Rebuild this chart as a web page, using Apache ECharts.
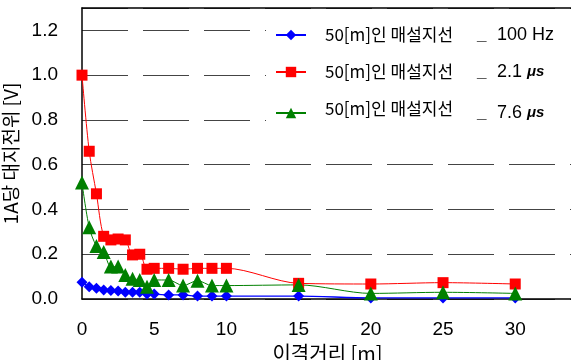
<!DOCTYPE html>
<html>
<head>
<meta charset="utf-8">
<script src="https://cdn.jsdelivr.net/npm/echarts@6/dist/echarts.min.js"></script>
<style>
  html, body { margin: 0; padding: 0; background: #fff; }
  #chart { width: 571px; height: 360px; }
</style>
</head>
<body>
<div id="chart"></div>
<script>
// Distance from the grounding conductor [m]
const distance = [0, 0.5, 1, 1.5, 2, 2.5, 3, 3.5, 4, 4.5, 5, 6, 7, 8, 9, 10, 15, 20, 25, 30];

// Earth potential per 1 A [V]
const pot100Hz = [0.075, 0.055, 0.048, 0.040, 0.038, 0.036, 0.030, 0.030, 0.030, 0.022, 0.022, 0.018, 0.018, 0.013, 0.013, 0.013, 0.013, 0.005, 0.005, 0.005];
const pot2_1us = [1.00, 0.66, 0.47, 0.28, 0.264, 0.268, 0.264, 0.197, 0.200, 0.133, 0.137, 0.137, 0.133, 0.137, 0.137, 0.137, 0.070, 0.067, 0.073, 0.067];
const pot7_6us = [0.52, 0.32, 0.237, 0.210, 0.145, 0.145, 0.107, 0.090, 0.085, 0.055, 0.085, 0.085, 0.060, 0.082, 0.060, 0.060, 0.063, 0.025, 0.030, 0.025];

// Legend suffixes: source value and its unit
const seriesValues = ['100', '2.1', '7.6'];
const seriesUnits = ['Hz', 'μs', 'μs'];
const seriesNames = seriesValues.map((v, i) => v + ' ' + seriesUnits[i]);
const seriesLabel = '50[m]인 매설지선';
const yTicks = [0, 0.2, 0.4, 0.6, 0.8, 1.0, 1.2];

const pairs = ys => distance.map((x, i) => [x, ys[i]]);

const chart = echarts.init(document.getElementById('chart'));
const baseFont = 'Liberation Sans, Arial, sans-serif';
const krFont = 'Noto Sans CJK KR, sans-serif';

const labelStyle = { fontSize: 17, color: '#000', fontFamily: 'Liberation Sans Narrow, Noto Sans CJK KR, sans-serif' };

chart.setOption({
  animation: false,
  grid: { left: 82, top: 8, right: -2, bottom: 61, outerBoundsMode: 'none', containLabel: false },
  xAxis: [{
    type: 'value', min: 0, max: 34, interval: 5,
    axisLine: { lineStyle: { color: '#000', width: 1.5 } },
    axisTick: { show: false },
    splitLine: { show: false },
    axisLabel: { showMaxLabel: false, margin: 21, color: '#000', fontSize: 19, fontFamily: baseFont },
    name: '이격거리 [m]', nameLocation: 'middle', nameGap: 38,
    nameTextStyle: { fontSize: 20, color: '#000', fontFamily: krFont }
  }, {
    type: 'value', position: 'top', min: 0, max: 34,
    axisLine: { show: true, onZero: false, lineStyle: { color: '#000', width: 1.5 } },
    axisTick: { show: false }, axisLabel: { show: false }, splitLine: { show: false }
  }],
  yAxis: {
    type: 'value', min: 0, max: 1.3, interval: 0.2,
    axisLine: { show: true, lineStyle: { color: '#000', width: 1.5 } },
    axisTick: { show: false },
    splitLine: { lineStyle: { color: '#444', width: 1, type: [46, 15] } },
    axisLabel: {
      margin: 24, color: '#000', fontSize: 19, fontFamily: baseFont,
      formatter: v => yTicks.some(t => Math.abs(t - v) < 1e-9) ? v.toFixed(1) : ''
    },
    name: '1A당 대지전위 [V]', nameLocation: 'middle', nameGap: 44,
    nameTextStyle: { fontSize: 19, color: '#000', fontFamily: krFont }
  },
  legend: {
    orient: 'vertical', left: 266, top: 18,
    padding: [8, 20, 8, 9],
    backgroundColor: '#fff',
    itemWidth: 30, itemHeight: 13, itemGap: 19,
    data: seriesNames,
    formatter: name => {
      const i = seriesNames.indexOf(name);
      const unitStyle = seriesUnits[i] === 'μs' ? 'us' : 'hz';
      const a = i === 2 ? 'a3' : 'a';
      return `{${a}|${seriesLabel}}{u|_}{v|${seriesValues[i]} }{${unitStyle}|${seriesUnits[i]}}`;
    },
    textStyle: {
      rich: {
        a: Object.assign({ width: 152, padding: [0, 0, 0, 14] }, labelStyle),
        a3: Object.assign({ width: 152, padding: [0, 0, 9, 14] }, labelStyle),
        u: { width: 20, fontSize: 17, fontWeight: 'bold', color: '#000', fontFamily: baseFont },
        v: { fontSize: 18, color: '#000', fontFamily: baseFont },
        hz: { fontSize: 18, color: '#000', fontFamily: baseFont },
        us: { fontSize: 15, fontStyle: 'italic', fontWeight: 'bold', color: '#000', fontFamily: baseFont }
      }
    }
  },
  series: [
    {
      name: seriesNames[0], type: 'line', smooth: 0.3, data: pairs(pot100Hz),
      symbol: 'diamond', symbolSize: 11,
      itemStyle: { color: '#0000ff' }, lineStyle: { color: '#0000ff', width: 1.3 }
    },
    {
      name: seriesNames[1], type: 'line', smooth: 0.3, data: pairs(pot2_1us),
      symbol: 'rect', symbolSize: 11,
      itemStyle: { color: '#ff0000' }, lineStyle: { color: '#ff0000', width: 1 }
    },
    {
      name: seriesNames[2], type: 'line', smooth: 0.3, data: pairs(pot7_6us),
      symbol: 'triangle', symbolSize: 14,
      itemStyle: { color: '#008000' }, lineStyle: { color: '#008000', width: 1 }
    }
  ]
});
</script>
</body>
</html>
